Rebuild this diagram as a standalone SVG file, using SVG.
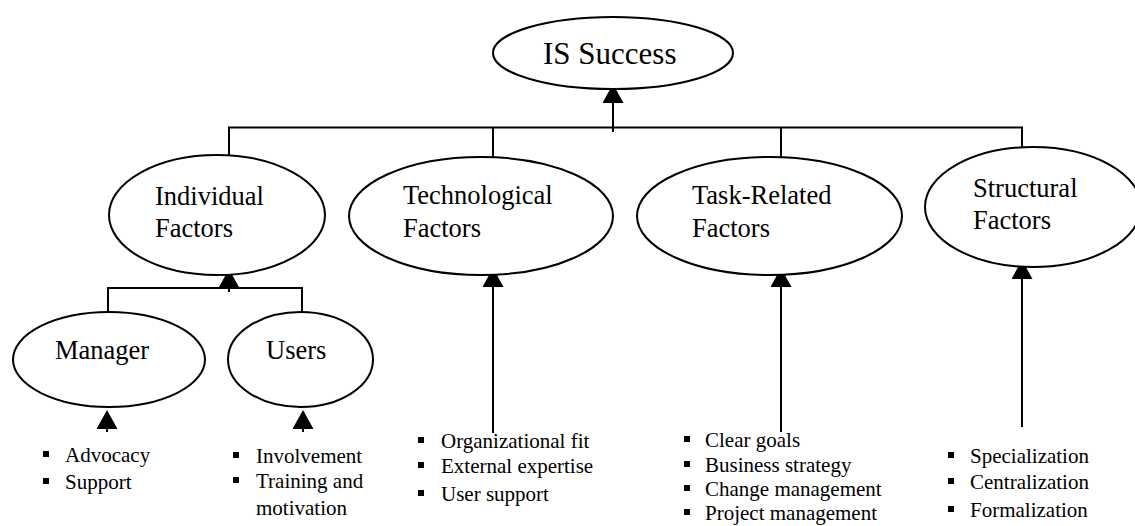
<svg xmlns="http://www.w3.org/2000/svg" width="1135" height="526" viewBox="0 0 1135 526">
  <style>
    .node ellipse { fill: #ffffff; stroke: #000000; stroke-width: 2; }
    .label { font-family: "Liberation Serif", "Times New Roman", serif; font-size: 26.5px; fill: #000000; }
    .title { font-family: "Liberation Serif", "Times New Roman", serif; font-size: 31px; fill: #000000; }
    .item { font-family: "Liberation Serif", "Times New Roman", serif; font-size: 21px; fill: #000000; }
    .bullet { fill: #000000; }
    .wire { fill: none; stroke: #000000; stroke-width: 2; }
    .arrow { fill: none; stroke: #000000; stroke-width: 2; marker-end: url(#head); }
  </style>
  <defs>
    <marker id="head" viewBox="0 0 19 21" refX="0" refY="10.5" markerWidth="19" markerHeight="21" markerUnits="userSpaceOnUse" orient="auto">
      <path d="M0,0 L19,10.5 L0,21 Z" fill="#000000"/>
    </marker>
  </defs>

  <rect x="0" y="0" width="1135" height="526" fill="#ffffff"/>

  <!-- connectors -->
  <g id="connectors">
    <!-- top bus into IS Success -->
    <path class="wire" d="M229,155 V127.5 H1022 V148"/>
    <path class="wire" d="M493,127.5 V157"/>
    <path class="wire" d="M781,127.5 V157"/>
    <line class="arrow" x1="613" y1="132" x2="613" y2="103"/>
    <!-- individual sub bus -->
    <path class="wire" d="M108,312 V288 H302 V312"/>
    <line class="arrow" x1="229" y1="292" x2="229" y2="288"/>
    <!-- bullet lists into nodes -->
    <line class="arrow" x1="107" y1="432" x2="107" y2="429"/>
    <line class="arrow" x1="303" y1="432" x2="303" y2="429"/>
    <line class="arrow" x1="493" y1="433" x2="493" y2="287"/>
    <line class="arrow" x1="781" y1="432" x2="781" y2="287"/>
    <line class="arrow" x1="1022" y1="427" x2="1022" y2="279"/>
  </g>

  <g id="is-success" class="node">
    <ellipse cx="613" cy="53" rx="120" ry="36"/>
    <text class="title" x="543" y="64">IS Success</text>
  </g>

  <g id="individual-factors" class="node">
    <ellipse cx="217" cy="215" rx="108" ry="60"/>
    <text class="label" x="155" y="205">Individual</text>
    <text class="label" x="155" y="237">Factors</text>
  </g>

  <g id="technological-factors" class="node">
    <ellipse cx="481" cy="216" rx="132" ry="59"/>
    <text class="label" x="403" y="204">Technological</text>
    <text class="label" x="403" y="237">Factors</text>
  </g>

  <g id="task-related-factors" class="node">
    <ellipse cx="769.5" cy="216" rx="132.5" ry="59"/>
    <text class="label" x="692" y="204">Task-Related</text>
    <text class="label" x="692" y="237">Factors</text>
  </g>

  <g id="structural-factors" class="node">
    <ellipse cx="1033" cy="207" rx="108" ry="60"/>
    <text class="label" x="973" y="197">Structural</text>
    <text class="label" x="973" y="229">Factors</text>
  </g>

  <g id="manager" class="node">
    <ellipse cx="109" cy="359.5" rx="96" ry="47.5"/>
    <text class="label" x="55" y="359">Manager</text>
  </g>

  <g id="users" class="node">
    <ellipse cx="300.5" cy="359.5" rx="72.5" ry="47.5"/>
    <text class="label" x="266" y="359">Users</text>
  </g>

  <!-- bullet lists -->
  <g id="manager-items">
    <rect class="bullet" x="43" y="451" width="6" height="6"/>
    <text class="item" x="65" y="462">Advocacy</text>
    <rect class="bullet" x="43" y="478" width="6" height="6"/>
    <text class="item" x="65" y="489">Support</text>
  </g>

  <g id="users-items">
    <rect class="bullet" x="233" y="452" width="6" height="6"/>
    <text class="item" x="256" y="463">Involvement</text>
    <rect class="bullet" x="233" y="477" width="6" height="6"/>
    <text class="item" x="256" y="488">Training and</text>
    <text class="item" x="256" y="515">motivation</text>
  </g>

  <g id="technological-items">
    <rect class="bullet" x="418" y="437" width="6" height="6"/>
    <text class="item" x="441" y="448">Organizational fit</text>
    <rect class="bullet" x="418" y="462" width="6" height="6"/>
    <text class="item" x="441" y="473">External expertise</text>
    <rect class="bullet" x="418" y="490" width="6" height="6"/>
    <text class="item" x="441" y="501">User support</text>
  </g>

  <g id="task-items">
    <rect class="bullet" x="684" y="436" width="6" height="6"/>
    <text class="item" x="705" y="447">Clear goals</text>
    <rect class="bullet" x="684" y="461" width="6" height="6"/>
    <text class="item" x="705" y="472">Business strategy</text>
    <rect class="bullet" x="684" y="485" width="6" height="6"/>
    <text class="item" x="705" y="496">Change management</text>
    <rect class="bullet" x="684" y="509" width="6" height="6"/>
    <text class="item" x="705" y="520">Project management</text>
  </g>

  <g id="structural-items">
    <rect class="bullet" x="948" y="452" width="6" height="6"/>
    <text class="item" x="970" y="463">Specialization</text>
    <rect class="bullet" x="948" y="478" width="6" height="6"/>
    <text class="item" x="970" y="489">Centralization</text>
    <rect class="bullet" x="948" y="506" width="6" height="6"/>
    <text class="item" x="970" y="517">Formalization</text>
  </g>
</svg>
